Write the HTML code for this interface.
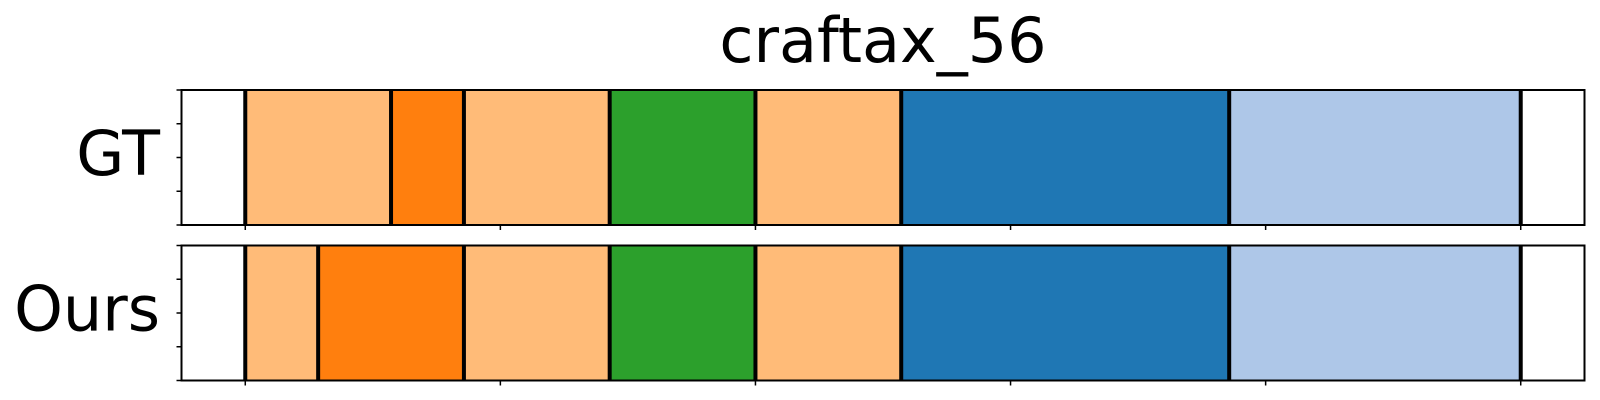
<!DOCTYPE html>
<html><head><meta charset="utf-8"><style>
html,body{margin:0;padding:0;background:#fff;}
svg{display:block;font-family:"DejaVu Sans","Liberation Sans",sans-serif;}
</style></head><body>
<svg id="chart" width="1600" height="400" viewBox="0 0 1600 400" xmlns="http://www.w3.org/2000/svg">
<text x="883" y="62" font-size="62" text-anchor="middle" fill="#000">craftax_56</text>
<g id="panels"></g>
</svg>
<script>
const rowLabels = ["GT", "Ours"];
const gtBounds = [0, 4, 6, 10, 14, 18, 27, 35];
const gtColors = ["#ffbb78", "#ff7f0e", "#ffbb78", "#2ca02c", "#ffbb78", "#1f77b4", "#aec7e8"];
const oursBounds = [0, 2, 6, 10, 14, 18, 27, 35];
const oursColors = ["#ffbb78", "#ff7f0e", "#ffbb78", "#2ca02c", "#ffbb78", "#1f77b4", "#aec7e8"];
const xTicks = [0, 7, 14, 21, 28, 35];
const xMin = 0, xMax = 35;

const NS = "http://www.w3.org/2000/svg";
const axL = 181.5, axR = 1584.5;
const span = xMax - xMin;
const lo = xMin - span * 0.05, hi = xMax + span * 0.05;
function xs(v){ return axL + (v - lo) / (hi - lo) * (axR - axL); }
const panelTops = [90, 245.5];
const panelH = 135;
const g = document.getElementById('panels');
function mk(tag, attrs){ const e = document.createElementNS(NS, tag); for (const k in attrs) e.setAttribute(k, attrs[k]); g.appendChild(e); return e; }

const series = [[gtBounds, gtColors], [oursBounds, oursColors]];
series.forEach((s, pi) => {
  const [b, c] = s;
  const top = panelTops[pi], bot = top + panelH;
  for (let i = 0; i < c.length; i++) {
    const r = mk('rect', {x: xs(b[i]), y: top, width: xs(b[i+1]) - xs(b[i]), height: panelH, fill: c[i]});
    
    
  }
  for (let i = 0; i < b.length; i++) {
    const l = mk('line', {x1: xs(b[i]), x2: xs(b[i]), y1: top, y2: bot, stroke: '#000', 'stroke-width': 4});
    
    
  }
  const f = mk('rect', {x: axL, y: top, width: axR - axL, height: panelH, fill: 'none', stroke: '#000', 'stroke-width': 2});
  
  
  for (let k = 0; k <= 4; k++) {
    const y = top + panelH * k / 4;
    const t = mk('line', {x1: axL - 5, x2: axL, y1: y, y2: y, stroke: '#000', 'stroke-width': 1.5});
    
    
  }
  xTicks.forEach(v => {
    const t = mk('line', {x1: xs(v), x2: xs(v), y1: bot, y2: bot + 5, stroke: '#000', 'stroke-width': 1.5});
    
    
  });
  const lab = mk('text', {x: 160, y: top + 85, 'font-size': 62, 'text-anchor': 'end', fill: '#000'});
  lab.textContent = rowLabels[pi];
  
  
});
</script>
</body></html>
